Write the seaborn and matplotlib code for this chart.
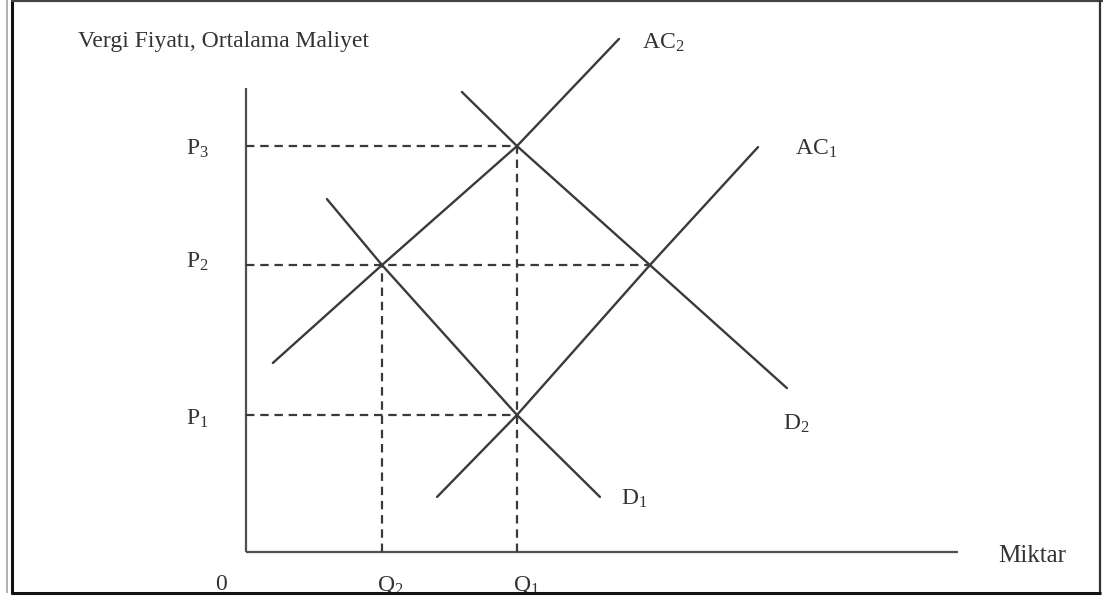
import matplotlib
matplotlib.use("Agg")
import matplotlib.pyplot as plt
import seaborn as sns
import pandas as pd
from matplotlib.lines import Line2D

# ---- data (economic units) ----
Q2, Q1 = 4.0, 7.97
P1, P2, P3 = 4.03, 8.44, 11.94
P2_right = 11.88          # intersection AC1 / D2 on P2 level

ac2_q = [0.79, Q2, Q1, 10.97]
ac2_p = [5.56, P2, P3, 15.09]
ac1_q = [5.62, Q1, P2_right, 15.06]
ac1_p = [1.62, P1, P2, 11.91]
d1_q = [2.38, Q2, Q1, 10.41]
d1_p = [10.38, P2, P1, 1.62]
d2_q = [6.35, Q1, P2_right, 15.91]
d2_p = [13.53, P3, P2, 4.82]

y_axis_top = 13.65
x_axis_right = 20.94

curve_names = ["AC2", "AC1", "D1", "D2"]
price_labels = ["P$_3$", "P$_2$", "P$_1$"]
qty_labels = ["0", "Q$_2$", "Q$_1$"]

# ---- style ----
sns.set_theme(style="white")
plt.rcParams["font.family"] = ["Liberation Serif", "DejaVu Serif"]
plt.rcParams["mathtext.fontset"] = "custom"
plt.rcParams["mathtext.rm"] = "Liberation Serif"
plt.rcParams["mathtext.it"] = "Liberation Serif"

W, H = 1103, 598
fig = plt.figure(figsize=(W / 100, H / 100), dpi=100)
ax = fig.add_axes([0, 0, 1, 1])
U = 34.0
X0, Y0 = 246, 552
ax.set_xlim(-X0 / U, (W - X0) / U)
ax.set_ylim(-(H - Y0) / U, Y0 / U)
ax.axis("off")


def px(x, y):
    return (x - X0) / U, (Y0 - y) / U


LC = "#3a3a3a"
TC = "#333333"
lw = 1.7

df = pd.concat([
    pd.DataFrame({"q": ac2_q, "p": ac2_p, "curve": "AC2"}),
    pd.DataFrame({"q": ac1_q, "p": ac1_p, "curve": "AC1"}),
    pd.DataFrame({"q": d1_q, "p": d1_p, "curve": "D1"}),
    pd.DataFrame({"q": d2_q, "p": d2_p, "curve": "D2"}),
])
sns.lineplot(data=df, x="q", y="p", units="curve", estimator=None, sort=False,
             color=LC, lw=lw, ax=ax, legend=False)

# axes
ax.plot([0, 0], [0, y_axis_top], color="#505050", lw=1.6, solid_capstyle="butt")
ax.plot([0, x_axis_right], [0, 0], color="#505050", lw=1.6, solid_capstyle="butt")

# dashed guides
dash = dict(color=LC, lw=1.6, dashes=(3.8, 2.6))
ax.plot([0, Q1], [P3, P3], **dash)
ax.plot([0, P2_right], [P2, P2], **dash)
ax.plot([0, Q1], [P1, P1], **dash)
ax.plot([Q2, Q2], [0, P2], **dash)
ax.plot([Q1, Q1], [0, P3], **dash)

fs = 17
tk = dict(color=TC, fontsize=fs)
ax.text(*px(78, 47), "Vergi Fiyatı, Ortalama Maliyet", ha="left", va="baseline", **tk)
ax.text(*px(642, 49), "AC$_2$", ha="left", va="baseline", **tk)
ax.text(*px(795, 155), "AC$_1$", ha="left", va="baseline", **tk)
ax.text(*px(783, 430), "D$_2$", ha="left", va="baseline", **tk)
ax.text(*px(621, 505), "D$_1$", ha="left", va="baseline", **tk)
for lab, y in zip(price_labels, [155, 268, 425]):
    ax.text(*px(186, y), lab, ha="left", va="baseline", **tk)
for lab, x in zip(qty_labels, [215, 377, 513]):
    ax.text(*px(x, 590), lab, ha="left", va="baseline", **tk)
ax.text(*px(998, 562), "Miktar", ha="left", va="baseline", color=TC, fontsize=18)

# frame of the picture
def fline(x0, y0, x1, y1, c, w):
    fig.add_artist(Line2D([x0 / W, x1 / W], [1 - y0 / H, 1 - y1 / H],
                          transform=fig.transFigure, color=c, lw=w,
                          solid_capstyle="butt"))

fline(7, 0, 7, 593, "#b0b0b0", 1.4)
fline(12, 0, 12, 594, "#111111", 2.2)
fline(11, 1, 1103, 1, "#444444", 1.6)
fline(1100, 0, 1100, 594, "#333333", 1.6)
fline(11, 593, 1101, 593, "#111111", 2.2)

fig.savefig("out.png", dpi=100, facecolor="white")
